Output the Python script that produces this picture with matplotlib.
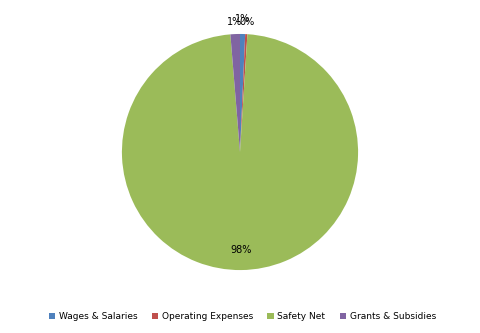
import numpy as np
import matplotlib
matplotlib.use("Agg")
import matplotlib.pyplot as plt

# Slice data, clockwise from the top
labels = ["Wages & Salaries", "Operating Expenses", "Safety Net", "Grants & Subsidies"]
values = [0.7, 0.3, 97.7, 1.3]
colors = ["#4F81BD", "#C0504D", "#9BBB59", "#8064A2"]

plt.rcParams["font.family"] = "DejaVu Sans"

fig = plt.figure(figsize=(4.8, 3.33), dpi=100)
ax = fig.add_axes([0.254, 0.189, 0.492, 0.709])

wedges, texts, autotexts = ax.pie(
    values, colors=colors, startangle=90, counterclock=False,
    autopct="%.0f%%", pctdistance=0.83,
    textprops={"fontsize": 7, "color": "black"},
)
ax.set_aspect("auto")
ax.set_xlim(-1, 1)
ax.set_ylim(-1, 1)

# small slices get their labels outside the pie
outside = [1.13, 1.1, None, 1.1]
for w, t, r in zip(wedges, autotexts, outside):
    if r is None:
        continue
    ang = np.deg2rad((w.theta1 + w.theta2) / 2)
    t.set_position((r * np.cos(ang), r * np.sin(ang)))
    t.set_clip_on(False)

ax.legend(wedges, labels, loc="center", bbox_to_anchor=(0.505, 0.05),
          bbox_transform=fig.transFigure, ncol=4, frameon=False, fontsize=6.5,
          handlelength=0.7, handleheight=0.7, handletextpad=0.4, columnspacing=1.6)

fig.savefig("out.png", dpi=100)
